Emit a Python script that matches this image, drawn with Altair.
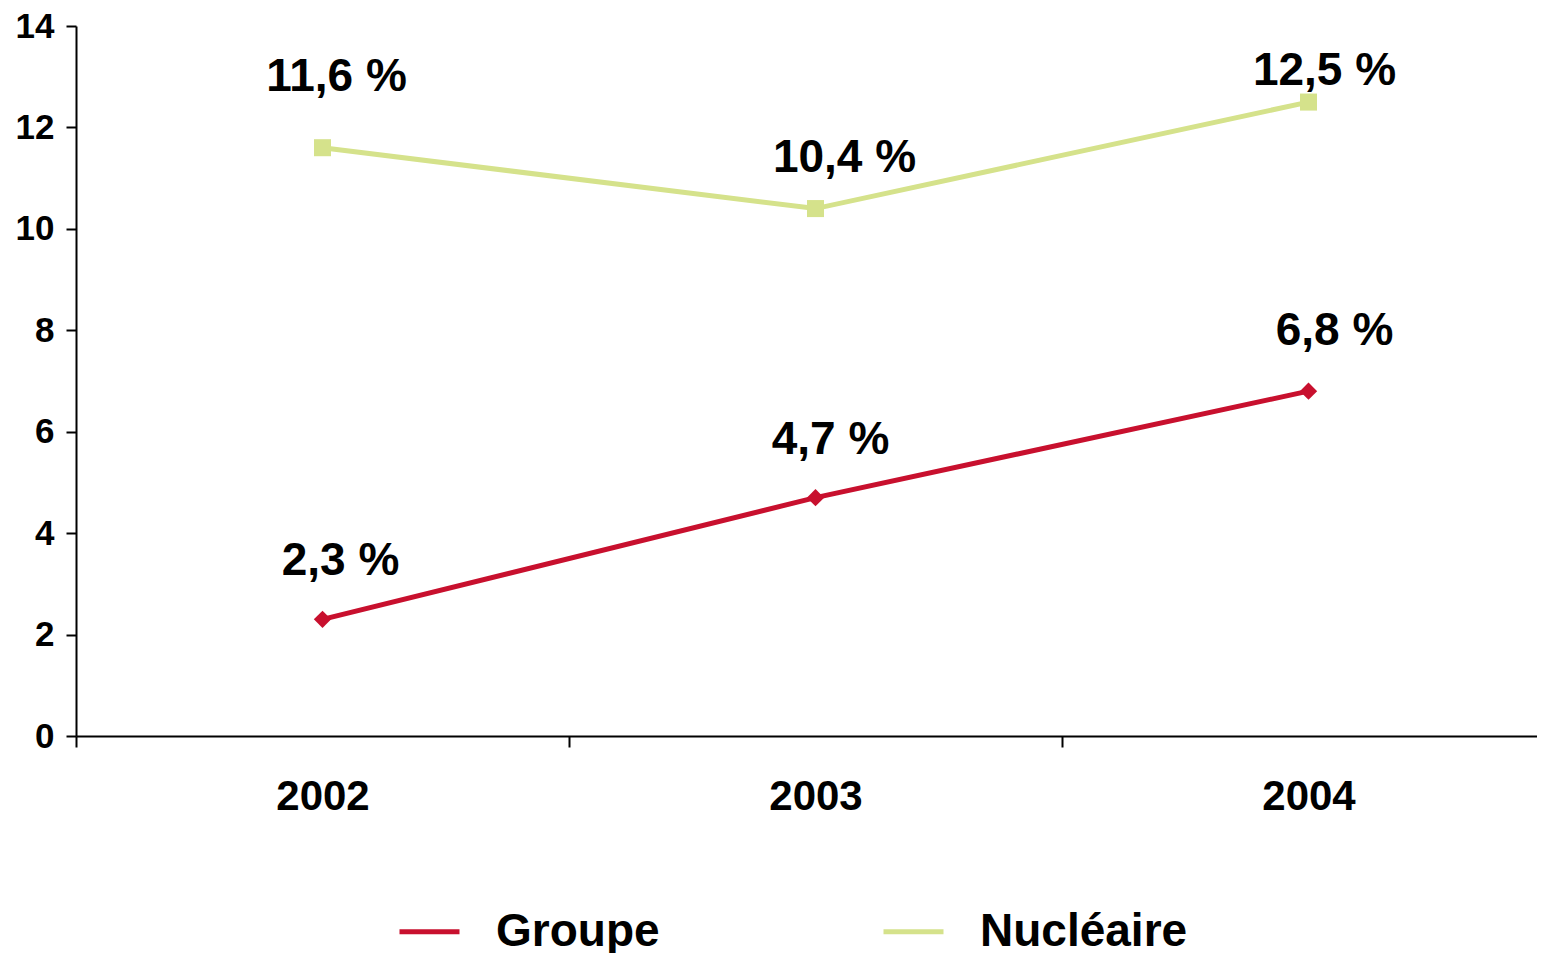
import altair as alt
import pandas as pd

years = ["2002", "2003", "2004"]
series = ["Groupe", "Nucléaire"]
groupe = [2.3, 4.7, 6.8]
nucleaire = [11.6, 10.4, 12.5]
groupe_labels = ["2,3 %", "4,7 %", "6,8 %"]
nucleaire_labels = ["11,6 %", "10,4 %", "12,5 %"]
# label placement in pixels: shift right, and height of baseline above the point
groupe_dx = [18, 15, 26]
groupe_dy = [44, 44, 46]
nucleaire_dx = [14, 29, 16]
nucleaire_dy = [57, 37, 17]

rows = []
for i, y in enumerate(years):
    rows.append({"year": y, "serie": "Groupe", "value": groupe[i], "label": groupe_labels[i]})
for i, y in enumerate(years):
    rows.append({"year": y, "serie": "Nucléaire", "value": nucleaire[i], "label": nucleaire_labels[i]})
df = pd.DataFrame(rows)

FONT = "Liberation Sans"
H = 710
colors = ["#C8102E", "#D5E28B"]
shapes = ["diamond", "square"]
sizes = [300, 290]

x_enc = alt.X(
    "year:O",
    scale=alt.Scale(type="band", paddingInner=0, paddingOuter=0, range=[0, 1479]),
    axis=alt.Axis(
        title=None, labelAngle=0, tickBand="extent", labelFont=FONT,
        labelFontSize=42, labelFontWeight="bold", labelColor="black",
        domainColor="black", domainWidth=2, tickColor="black", tickWidth=2,
        tickSize=11, labelPadding=29,
    ),
)
y_scale = alt.Scale(domain=[0, 14])
y_axis = alt.Axis(
    title=None, values=[0, 2, 4, 6, 8, 10, 12, 14], labelFont=FONT,
    labelFontSize=35, labelFontWeight="bold", labelColor="black",
    domainColor="black", domainWidth=2, tickColor="black", tickWidth=2,
    tickSize=10, labelPadding=12, grid=False,
)

color = alt.Color(
    "serie:N",
    scale=alt.Scale(domain=series, range=colors),
    legend=alt.Legend(
        title=None, orient="none", direction="horizontal",
        legendX=321, legendY=873, symbolType="stroke", symbolSize=3600,
        symbolStrokeWidth=5, labelFont=FONT, labelFontSize=46,
        labelFontWeight="bold", labelColor="black", labelOffset=34,
        columnPadding=213, labelLimit=400,
    ),
)

base = alt.Chart(df)

layers = [
    base.mark_line(strokeWidth=5).encode(
        x=x_enc, y=alt.Y("value:Q", scale=y_scale, axis=y_axis), color=color,
    )
]

for s, c, sh, sz in zip(series, colors, shapes, sizes):
    layers.append(
        base.transform_filter(alt.datum.serie == s)
        .mark_point(filled=True, opacity=1, size=sz, shape=sh, color=c)
        .encode(x=x_enc, y=alt.Y("value:Q", scale=y_scale))
    )

for s, labels, dxs, dys in [
    ("Groupe", groupe_labels, groupe_dx, groupe_dy),
    ("Nucléaire", nucleaire_labels, nucleaire_dx, nucleaire_dy),
]:
    for lab, dx, dy in zip(labels, dxs, dys):
        layers.append(
            base.transform_filter((alt.datum.serie == s) & (alt.datum.label == lab))
            .mark_text(font=FONT, fontSize=46, fontWeight="bold", color="black",
                       baseline="alphabetic", align="center", dx=dx, dy=-dy)
            .encode(x=x_enc, y=alt.Y("value:Q", scale=y_scale), text="label:N")
        )

chart = alt.layer(*layers).properties(
    width=1461, height=H,
    autosize=alt.AutoSizeParams(type="none"),
    padding={"left": 68, "top": 18, "right": 0, "bottom": 217},
).configure_view(stroke=None)

chart.save("out.html", embed_options={"renderer": "svg", "actions": False})
